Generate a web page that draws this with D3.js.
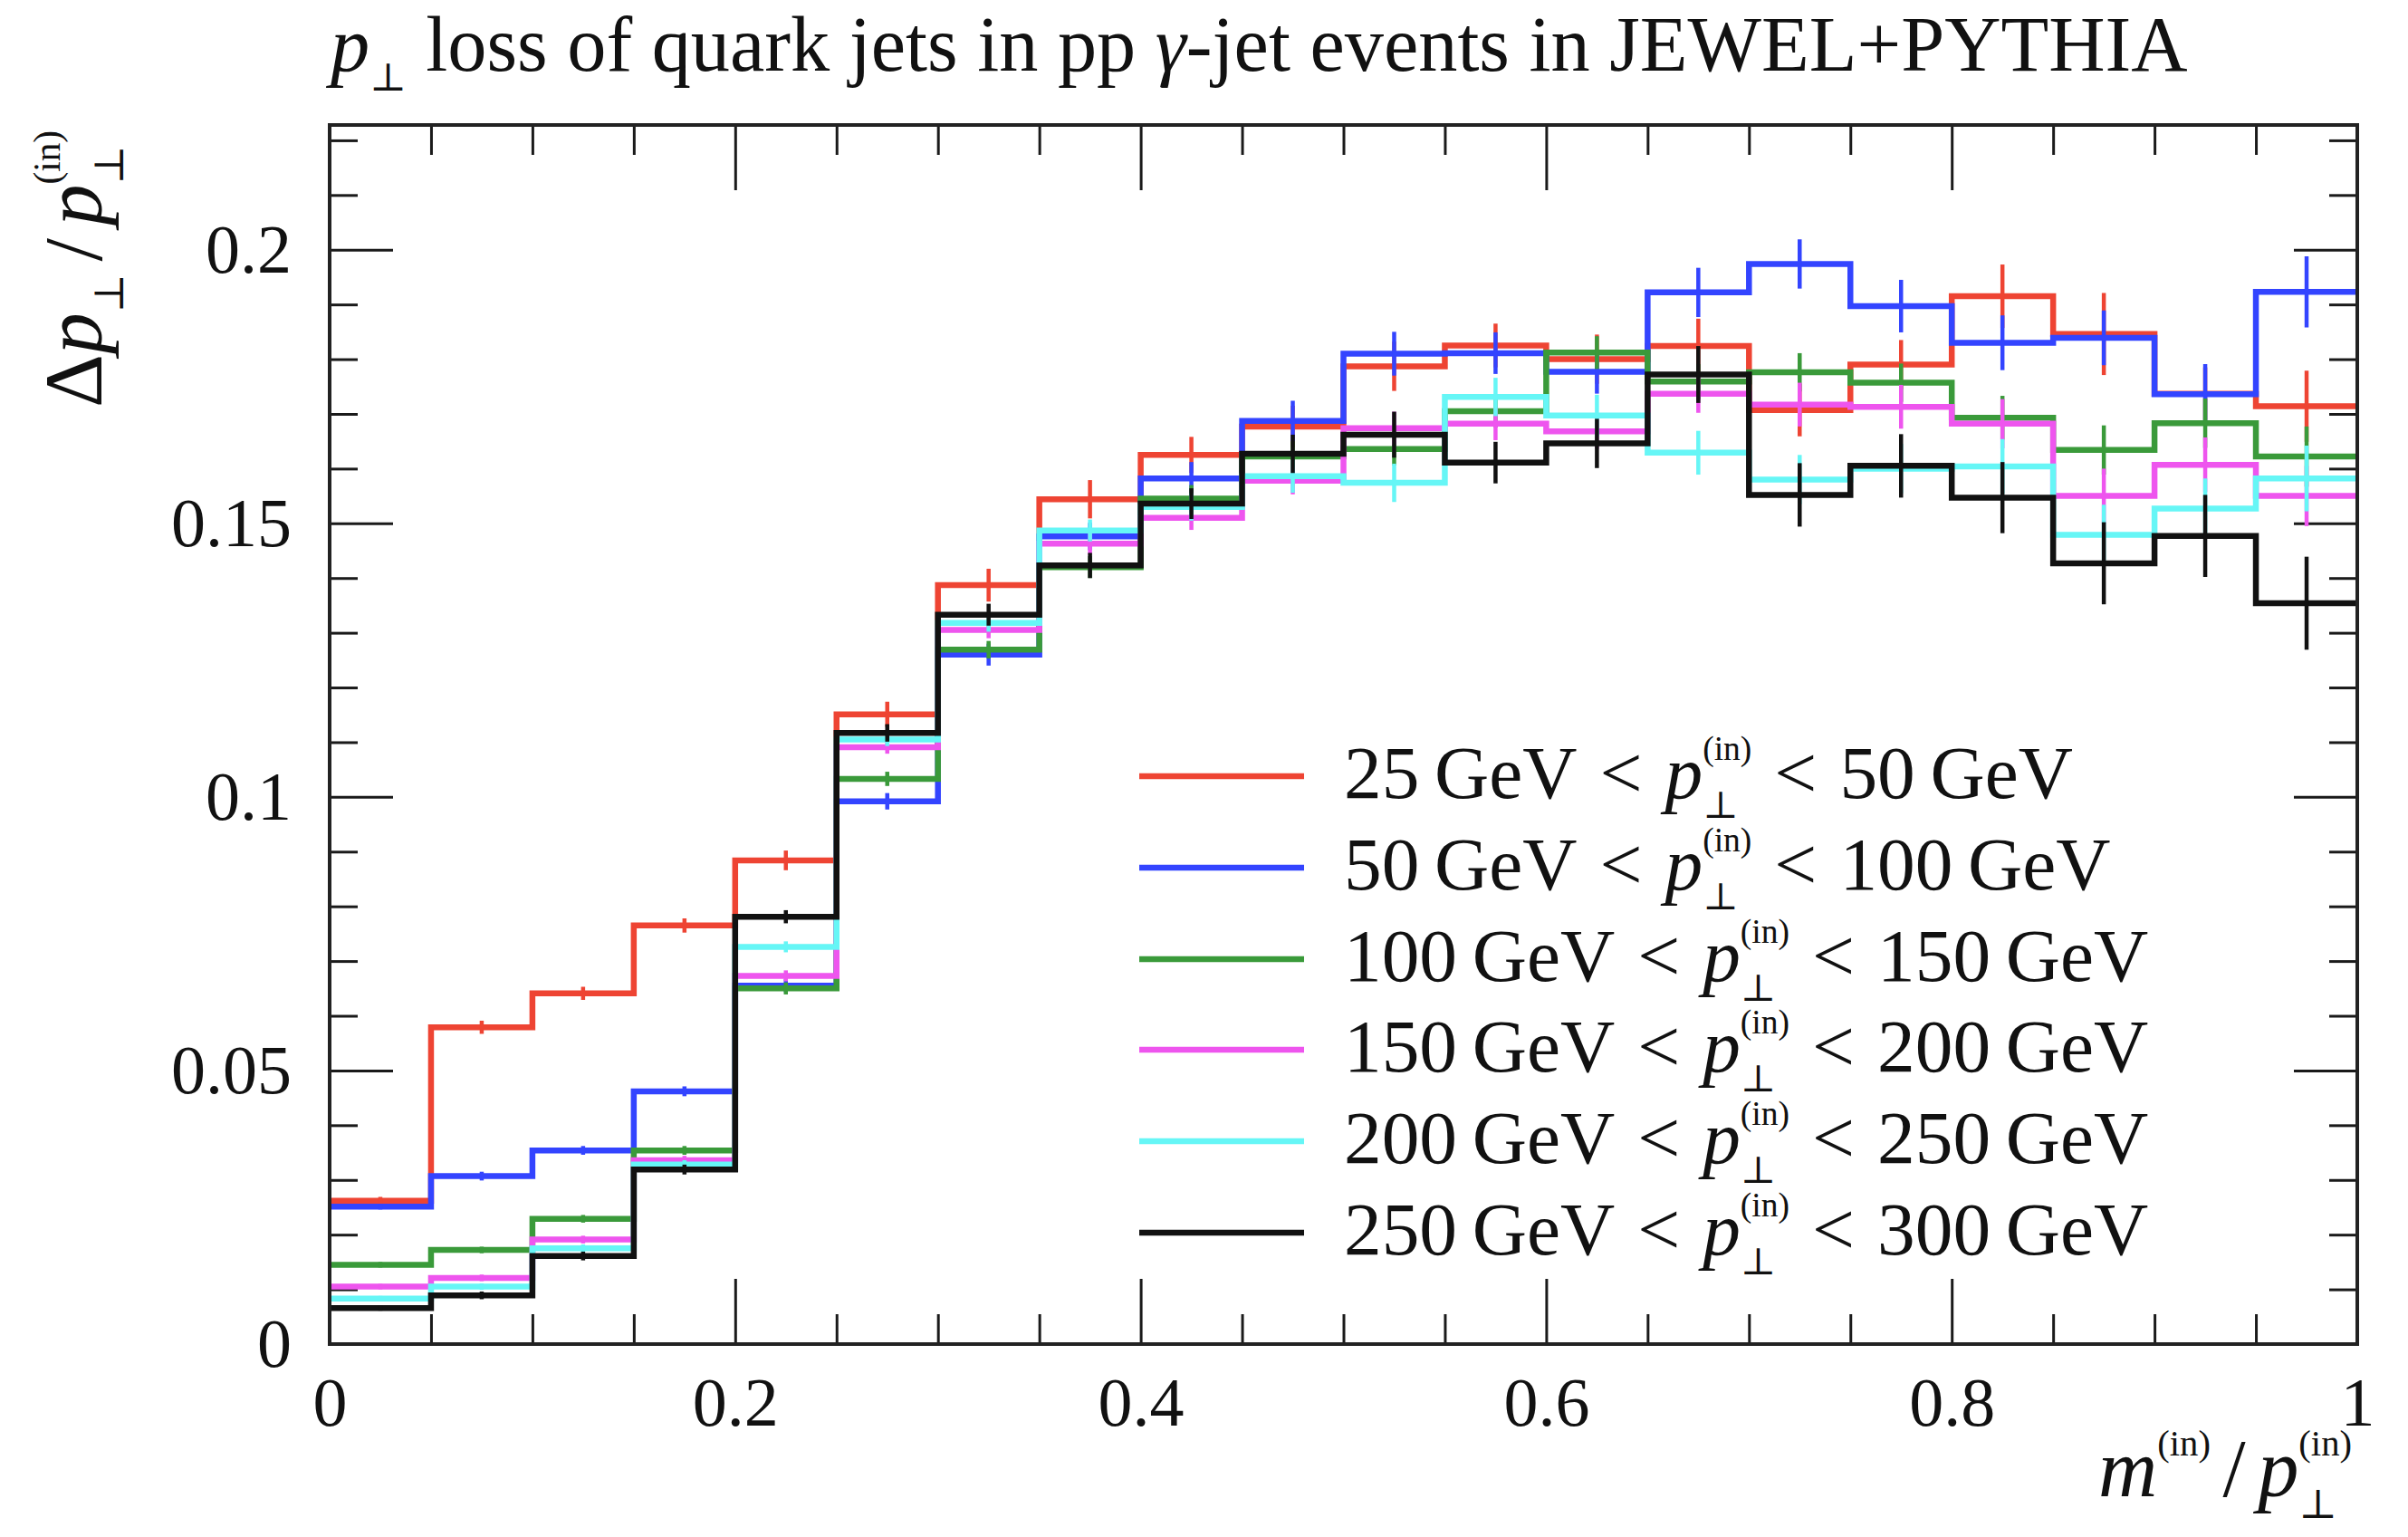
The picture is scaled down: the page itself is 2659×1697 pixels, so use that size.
<!DOCTYPE html>
<html lang="en">
<head>
<meta charset="utf-8">
<title>pT loss of quark jets in pp gamma-jet events</title>
<script src="https://cdn.jsdelivr.net/npm/d3@7"></script>
<style>
  body { margin: 0; background: #fff; }
  text { font-family: "Liberation Serif", "DejaVu Serif", serif; fill: #111; }
</style>
</head>
<body>
<script>
// bins in m/pT, lower edges
const binLo = [0, 0.05, 0.1, 0.15, 0.2, 0.25, 0.3, 0.35, 0.4, 0.45,
               0.5, 0.55, 0.6, 0.65, 0.7, 0.75, 0.8, 0.85, 0.9, 0.95];
const binWidth = 0.05;

const ptLo = [25, 50, 100, 150, 200, 250];
const ptHi = [50, 100, 150, 200, 250, 300];
const colors = ["#ee4433", "#3344ff", "#3a9a3a", "#ee55ee", "#66f6f6", "#111111"];

// values
const loss25 = [0.0262, 0.0579, 0.0641, 0.0765, 0.0884, 0.1151, 0.1387, 0.1544, 0.1625, 0.1677,
                0.1787, 0.1825, 0.1800, 0.1824, 0.1707, 0.1790, 0.1915, 0.1846, 0.1737, 0.1714];
const loss50 = [0.0251, 0.0307, 0.0354, 0.0462, 0.0655, 0.0992, 0.1260, 0.1476, 0.1582, 0.1687,
                0.1810, 0.1811, 0.1777, 0.1922, 0.1974, 0.1897, 0.1830, 0.1839, 0.1736, 0.1923];
const loss100 = [0.0145, 0.0172, 0.0229, 0.0354, 0.0650, 0.1033, 0.1269, 0.1420, 0.1545, 0.1622,
                 0.1636, 0.1705, 0.1812, 0.1759, 0.1776, 0.1757, 0.1693, 0.1634, 0.1683, 0.1622];
const loss150 = [0.0105, 0.0121, 0.0191, 0.0336, 0.0673, 0.1091, 0.1305, 0.1463, 0.1510, 0.1578,
                 0.1674, 0.1682, 0.1668, 0.1737, 0.1717, 0.1713, 0.1682, 0.1550, 0.1607, 0.1550];
const loss200 = [0.0083, 0.0105, 0.0175, 0.0328, 0.0726, 0.1105, 0.1318, 0.1487, 0.1530, 0.1586,
                 0.1574, 0.1731, 0.1697, 0.1629, 0.1580, 0.1600, 0.1604, 0.1479, 0.1527, 0.1582];
const loss250 = [0.0066, 0.0089, 0.0161, 0.0319, 0.0781, 0.1117, 0.1333, 0.1423, 0.1536, 0.1627,
                 0.1662, 0.1611, 0.1646, 0.1772, 0.1552, 0.1605, 0.1547, 0.1427, 0.1477, 0.1354];

// half-lengths of the error bars
const err25 = [0.0007, 0.0012, 0.0012, 0.0013, 0.0018, 0.0023, 0.0030, 0.0035, 0.0033, 0.0038,
               0.0045, 0.0040, 0.0045, 0.0050, 0.0048, 0.0045, 0.0058, 0.0075, 0.0048, 0.0065];
const err50 = [0.0005, 0.0008, 0.0008, 0.0009, 0.0012, 0.0015, 0.0020, 0.0025, 0.0030, 0.0037,
               0.0040, 0.0038, 0.0040, 0.0045, 0.0045, 0.0048, 0.0050, 0.0050, 0.0055, 0.0065];
const err100 = [0.0005, 0.0006, 0.0007, 0.0008, 0.0011, 0.0013, 0.0016, 0.0020, 0.0025, 0.0028,
                0.0030, 0.0030, 0.0030, 0.0032, 0.0035, 0.0035, 0.0040, 0.0045, 0.0045, 0.0055];
const err150 = [0.0005, 0.0006, 0.0007, 0.0008, 0.0010, 0.0012, 0.0015, 0.0020, 0.0022, 0.0025,
                0.0030, 0.0030, 0.0032, 0.0035, 0.0040, 0.0040, 0.0045, 0.0050, 0.0050, 0.0055];
const err200 = [0.0005, 0.0006, 0.0007, 0.0008, 0.0010, 0.0012, 0.0016, 0.0020, 0.0025, 0.0030,
                0.0035, 0.0035, 0.0038, 0.0040, 0.0045, 0.0045, 0.0050, 0.0055, 0.0055, 0.0060];
const err250 = [0.0005, 0.0007, 0.0008, 0.0009, 0.0012, 0.0016, 0.0020, 0.0023, 0.0028, 0.0035,
                0.0042, 0.0038, 0.0045, 0.0052, 0.0058, 0.0058, 0.0065, 0.0075, 0.0075, 0.0085];

const yMajor = [0, 0.05, 0.1, 0.15, 0.2];
const yMajorLabels = ["0", "0.05", "0.1", "0.15", "0.2"];
const yMinor = [0.01, 0.02, 0.03, 0.04, 0.06, 0.07, 0.08, 0.09, 0.11, 0.12, 0.13, 0.14,
                0.16, 0.17, 0.18, 0.19, 0.21, 0.22];
const xMajor = [0, 0.2, 0.4, 0.6, 0.8, 1];
const xMajorLabels = ["0", "0.2", "0.4", "0.6", "0.8", "1"];
const xMinor = [0.05, 0.1, 0.15, 0.25, 0.3, 0.35, 0.45, 0.5, 0.55, 0.65, 0.7, 0.75,
                0.85, 0.9, 0.95];

const allVals = [loss25, loss50, loss100, loss150, loss200, loss250];
const allErrs = [err25, err50, err100, err150, err200, err250];

const W = 2659, H = 1697;
const pLeft = 364, pRight = 2603, pTop = 138, pBottom = 1484;

const svg = d3.select("body").append("svg")
  .attr("width", W).attr("height", H);

const x = d3.scaleLinear().domain([0, 1]).range([pLeft, pRight]);
const y = d3.scaleLinear().domain([0, 0.2228]).range([pBottom, pTop]);

// small helper for text with italics, sub- and superscripts
function rich(parent, parts, size) {
  const g = parent.append("g");
  let cx = 0, prevStart = 0;
  parts.forEach(p => {
    if (p.gap) { cx += p.gap * size; return; }
    let s = size, dy = 0;
    if (p.sub) { s = size * 0.5; dy = size * 0.26; }
    if (p.sup) { s = size * 0.45; dy = -size * 0.5; }
    const start = p.stack ? prevStart : cx;
    const t = g.append("text")
      .attr("x", start).attr("y", dy)
      .attr("font-size", s)
      .attr("font-style", p.it ? "italic" : "normal")
      .text(p.t);
    const w = t.node().getComputedTextLength();
    prevStart = start;
    cx = Math.max(cx, start + w);
  });
  return { g: g, width: cx };
}

function fitRich(parent, parts, size, target) {
  const tmp = rich(parent, parts, size);
  const k = target / tmp.width;
  tmp.g.remove();
  return rich(parent, parts, size * k);
}

// axes
const axG = svg.append("g");
function addAxis(axis, tr) {
  const g = axG.append("g").attr("transform", tr).call(axis);
  g.select(".domain").remove();
  g.selectAll(".tick line").attr("stroke", "#1a1a1a").attr("stroke-width", 3);
  g.selectAll(".tick text")
    .attr("font-size", 76)
    .attr("font-family", "'Liberation Serif', 'DejaVu Serif', serif")
    .attr("fill", "#111");
  return g;
}

addAxis(d3.axisLeft(y).tickValues(yMinor).tickSize(-31).tickFormat(""), `translate(${pLeft},0)`);
addAxis(d3.axisRight(y).tickValues(yMinor).tickSize(-31).tickFormat(""), `translate(${pRight},0)`);
addAxis(d3.axisLeft(y).tickValues(yMajor).tickSize(-70).tickPadding(42)
  .tickFormat((d, i) => yMajorLabels[i]), `translate(${pLeft},0)`);
addAxis(d3.axisRight(y).tickValues(yMajor).tickSize(-70).tickFormat(""), `translate(${pRight},0)`);

addAxis(d3.axisBottom(x).tickValues(xMinor).tickSize(-33).tickFormat(""), `translate(0,${pBottom})`);
addAxis(d3.axisTop(x).tickValues(xMinor).tickSize(-33).tickFormat(""), `translate(0,${pTop})`);
addAxis(d3.axisBottom(x).tickValues(xMajor).tickSize(-72).tickPadding(36)
  .tickFormat((d, i) => xMajorLabels[i]), `translate(0,${pBottom})`);
addAxis(d3.axisTop(x).tickValues(xMajor).tickSize(-72).tickFormat(""), `translate(0,${pTop})`);

// histograms
const line = d3.line()
  .x(d => x(d[0]))
  .y(d => y(d[1]))
  .curve(d3.curveStepAfter);

const plot = svg.append("g");
allVals.forEach((v, s) => {
  const pts = binLo.map((b, i) => [b, v[i]]);
  pts.push([binLo[binLo.length - 1] + binWidth, v[v.length - 1]]);
  const g = plot.append("g");
  g.append("path")
    .attr("d", line(pts))
    .attr("fill", "none")
    .attr("stroke", colors[s])
    .attr("stroke-width", 6.5)
    .attr("stroke-linejoin", "miter");
  g.selectAll("line.err")
    .data(binLo)
    .enter().append("line")
    .attr("class", "err")
    .attr("x1", (b) => x(b + binWidth / 2))
    .attr("x2", (b) => x(b + binWidth / 2))
    .attr("y1", (b, i) => y(v[i] - allErrs[s][i]))
    .attr("y2", (b, i) => y(v[i] + allErrs[s][i]))
    .attr("stroke", colors[s])
    .attr("stroke-width", 4.5);
});

// frame
svg.append("rect")
  .attr("x", pLeft).attr("y", pTop)
  .attr("width", pRight - pLeft).attr("height", pBottom - pTop)
  .attr("fill", "none").attr("stroke", "#222").attr("stroke-width", 4);

// legend
const legendY = [857, 958, 1059, 1159, 1260, 1361];
let legSize = null;
ptLo.forEach((lo, i) => {
  svg.append("line")
    .attr("x1", 1258).attr("x2", 1440)
    .attr("y1", legendY[i]).attr("y2", legendY[i])
    .attr("stroke", colors[i]).attr("stroke-width", 6.5);
  const parts = [
    { t: lo + "\u2009GeV" }, { gap: 0.3 }, { t: "<" }, { gap: 0.3 },
    { t: "p", it: 1 }, { t: "\u22a5", sub: 1 }, { t: "(in)", sup: 1, stack: 1 },
    { gap: 0.3 }, { t: "<" }, { gap: 0.3 }, { t: ptHi[i] + "\u2009GeV" }
  ];
  if (legSize === null) {
    const tmp = rich(svg, parts, 76);
    legSize = 76 * 805 / tmp.width;
    tmp.g.remove();
  }
  const r = rich(svg, parts, legSize);
  r.g.attr("transform", `translate(1484,${legendY[i] + 24})`);
});

// title
const title = fitRich(svg, [
  { t: "p", it: 1 }, { t: "\u22a5", sub: 1 },
  { gap: 0.25 },
  { t: "loss of quark jets in pp" }, { gap: 0.25 }, { t: "\u03b3", it: 1 },
  { t: "-jet events in JEWEL+PYTHIA" }
], 88, 2051);
title.g.attr("transform", "translate(365,78)");

// y label
const yl = fitRich(svg, [
  { t: "\u0394" }, { t: "p", it: 1 }, { t: "\u22a5", sub: 1 },
  { gap: 0.15 }, { t: "/" }, { gap: 0.15 },
  { t: "p", it: 1 }, { t: "\u22a5", sub: 1 }, { t: "(in)", sup: 1, stack: 1 }
], 80, 306);
yl.g.attr("transform", `translate(112,144) rotate(-90) translate(${-yl.width},0)`);

// x label
const xl = fitRich(svg, [
  { t: "m", it: 1 }, { t: "(in)", sup: 1 },
  { gap: 0.15 }, { t: "/" }, { gap: 0.15 },
  { t: "p", it: 1 }, { t: "\u22a5", sub: 1 }, { t: "(in)", sup: 1, stack: 1 }
], 80, 280);
xl.g.attr("transform", `translate(${2597 - xl.width},1652)`);
</script>
</body>
</html>
